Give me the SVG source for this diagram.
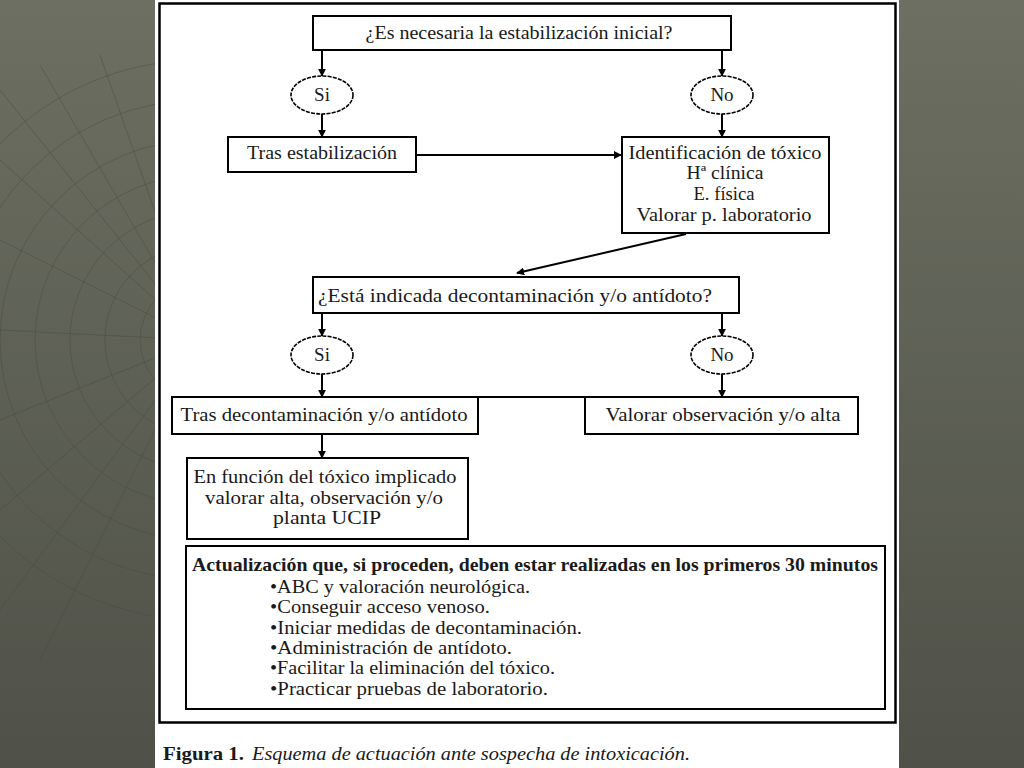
<svg xmlns="http://www.w3.org/2000/svg" width="1024" height="768" viewBox="0 0 1024 768">
<defs>
<linearGradient id="bg" x1="0" y1="0" x2="0" y2="1">
<stop offset="0" stop-color="#6c6f61"/>
<stop offset="1" stop-color="#4f5148"/>
</linearGradient>
<clipPath id="leftclip"><rect x="0" y="0" width="156" height="768"/></clipPath>
<marker id="ah" viewBox="0 0 10 10" refX="9" refY="5" markerWidth="4" markerHeight="4" orient="auto" markerUnits="strokeWidth">
<path d="M0,0 L10,5 L0,10 z" fill="#000"/>
</marker>
<style>
.box{fill:#fff;stroke:#000;stroke-width:2}
.oval{fill:#fff;stroke:#000;stroke-width:1.6;stroke-dasharray:4 1.2}
.t{font-family:"Liberation Serif","Times New Roman",serif;font-size:19px;fill:#1a1a1a;text-anchor:middle}
.tl{font-family:"Liberation Serif","Times New Roman",serif;font-size:19px;fill:#1a1a1a}
.c{stroke:#000;stroke-width:2;fill:none;marker-end:url(#ah)}
.grid{stroke:#45473e;stroke-width:1;fill:none;opacity:0.4}
</style>
</defs>
<rect x="0" y="0" width="1024" height="768" fill="url(#bg)"/>
<g clip-path="url(#leftclip)">
<circle class="grid" cx="200" cy="340" r="60"/>
<circle class="grid" cx="200" cy="340" r="95"/>
<circle class="grid" cx="200" cy="340" r="130"/>
<circle class="grid" cx="200" cy="340" r="165"/>
<circle class="grid" cx="200" cy="340" r="200"/>
<circle class="grid" cx="200" cy="340" r="240"/>
<circle class="grid" cx="200" cy="340" r="280"/>
<line class="grid" x1="200" y1="340" x2="0" y2="90"/>
<line class="grid" x1="200" y1="340" x2="40" y2="65"/>
<line class="grid" x1="200" y1="340" x2="100" y2="55"/>
<line class="grid" x1="200" y1="340" x2="0" y2="160"/>
<line class="grid" x1="200" y1="340" x2="0" y2="240"/>
<line class="grid" x1="200" y1="340" x2="0" y2="330"/>
<line class="grid" x1="200" y1="340" x2="0" y2="420"/>
<line class="grid" x1="200" y1="340" x2="0" y2="510"/>
<line class="grid" x1="200" y1="340" x2="0" y2="610"/>
<line class="grid" x1="200" y1="340" x2="40" y2="660"/>
</g>
<rect x="155" y="0" width="744" height="768" fill="#fff"/>
<rect x="159.5" y="3.5" width="736" height="719" fill="none" stroke="#000" stroke-width="2.5"/>

<g id="connectors">
<line class="c" x1="322" y1="50" x2="322" y2="76"/>
<line class="c" x1="722" y1="50" x2="722" y2="76"/>
<line class="c" x1="322" y1="114" x2="322" y2="137"/>
<line class="c" x1="722" y1="114" x2="722" y2="137"/>
<line class="c" x1="416" y1="155" x2="621" y2="155"/>
<line class="c" x1="686" y1="234" x2="517" y2="273"/>
<line class="c" x1="322" y1="313" x2="322" y2="336"/>
<line class="c" x1="722" y1="313" x2="722" y2="336"/>
<line class="c" x1="322" y1="374" x2="322" y2="397"/>
<line class="c" x1="722" y1="374" x2="722" y2="397"/>
<line x1="478" y1="397" x2="585" y2="397" stroke="#000" stroke-width="2"/>
<line class="c" x1="322" y1="434" x2="322" y2="458"/>
</g>

<g id="q1">
<rect class="box" x="313" y="16" width="418" height="34"/>
<text class="t" x="519" y="39" textLength="307" lengthAdjust="spacingAndGlyphs">¿Es necesaria la estabilización inicial?</text>
</g>
<g id="si1">
<ellipse class="oval" cx="322" cy="95" rx="31" ry="19"/>
<text class="t" x="322" y="101">Si</text>
</g>
<g id="no1">
<ellipse class="oval" cx="722" cy="95" rx="31" ry="19"/>
<text class="t" x="722" y="101">No</text>
</g>
<g id="tras-estab">
<rect class="box" x="228" y="137" width="188" height="35"/>
<text class="t" x="322" y="159" textLength="150" lengthAdjust="spacingAndGlyphs">Tras estabilización</text>
</g>
<g id="identificacion">
<rect class="box" x="622" y="137" width="207" height="96"/>
<text class="t" x="725" y="159" textLength="193" lengthAdjust="spacingAndGlyphs">Identificación de tóxico</text>
<text class="t" x="725" y="179" textLength="77" lengthAdjust="spacingAndGlyphs">Hª clínica</text>
<text class="t" x="724" y="200" textLength="61" lengthAdjust="spacingAndGlyphs">E. física</text>
<text class="t" x="724" y="221" textLength="175" lengthAdjust="spacingAndGlyphs">Valorar p. laboratorio</text>
</g>
<g id="q2">
<rect class="box" x="313" y="277" width="426" height="36"/>
<text class="t" x="515" y="302" textLength="394" lengthAdjust="spacingAndGlyphs">¿Está indicada decontaminación y/o antídoto?</text>
</g>
<g id="si2">
<ellipse class="oval" cx="322" cy="355" rx="31" ry="19"/>
<text class="t" x="322" y="361">Si</text>
</g>
<g id="no2">
<ellipse class="oval" cx="722" cy="355" rx="31" ry="19"/>
<text class="t" x="722" y="361">No</text>
</g>
<g id="tras-decont">
<rect class="box" x="172" y="397" width="306" height="37"/>
<text class="t" x="324" y="421" textLength="287" lengthAdjust="spacingAndGlyphs">Tras decontaminación y/o antídoto</text>
</g>
<g id="valorar-obs">
<rect class="box" x="585" y="397" width="273" height="37"/>
<text class="t" x="723" y="421" textLength="235" lengthAdjust="spacingAndGlyphs">Valorar observación y/o alta</text>
</g>
<g id="en-funcion">
<rect class="box" x="187" y="458" width="281" height="81"/>
<text class="t" x="325" y="483" textLength="263" lengthAdjust="spacingAndGlyphs">En función del tóxico implicado</text>
<text class="t" x="324" y="504" textLength="238" lengthAdjust="spacingAndGlyphs">valorar alta, observación y/o</text>
<text class="t" x="327" y="524" textLength="108" lengthAdjust="spacingAndGlyphs">planta UCIP</text>
</g>
<g id="actualizacion">
<rect class="box" x="186" y="546" width="699" height="163"/>
<text class="t" x="535" y="571" font-weight="bold" textLength="686" lengthAdjust="spacingAndGlyphs">Actualización que, si proceden, deben estar realizadas en los primeros 30 minutos</text>
<text class="tl" x="270" y="593" textLength="260" lengthAdjust="spacingAndGlyphs">•ABC y valoración neurológica.</text>
<text class="tl" x="270" y="613" textLength="220" lengthAdjust="spacingAndGlyphs">•Conseguir acceso venoso.</text>
<text class="tl" x="270" y="634" textLength="312" lengthAdjust="spacingAndGlyphs">•Iniciar medidas de decontaminación.</text>
<text class="tl" x="270" y="654" textLength="242" lengthAdjust="spacingAndGlyphs">•Administración de antídoto.</text>
<text class="tl" x="270" y="674" textLength="285" lengthAdjust="spacingAndGlyphs">•Facilitar la eliminación del tóxico.</text>
<text class="tl" x="270" y="695" textLength="278" lengthAdjust="spacingAndGlyphs">•Practicar pruebas de laboratorio.</text>
</g>
<g id="caption">
<text class="tl" x="163" y="760" font-size="23" font-weight="bold" textLength="81" lengthAdjust="spacingAndGlyphs">Figura 1.</text>
<text class="tl" x="252" y="760" font-size="23" font-style="italic" textLength="438" lengthAdjust="spacingAndGlyphs">Esquema de actuación ante sospecha de intoxicación.</text>
</g>
</svg>
